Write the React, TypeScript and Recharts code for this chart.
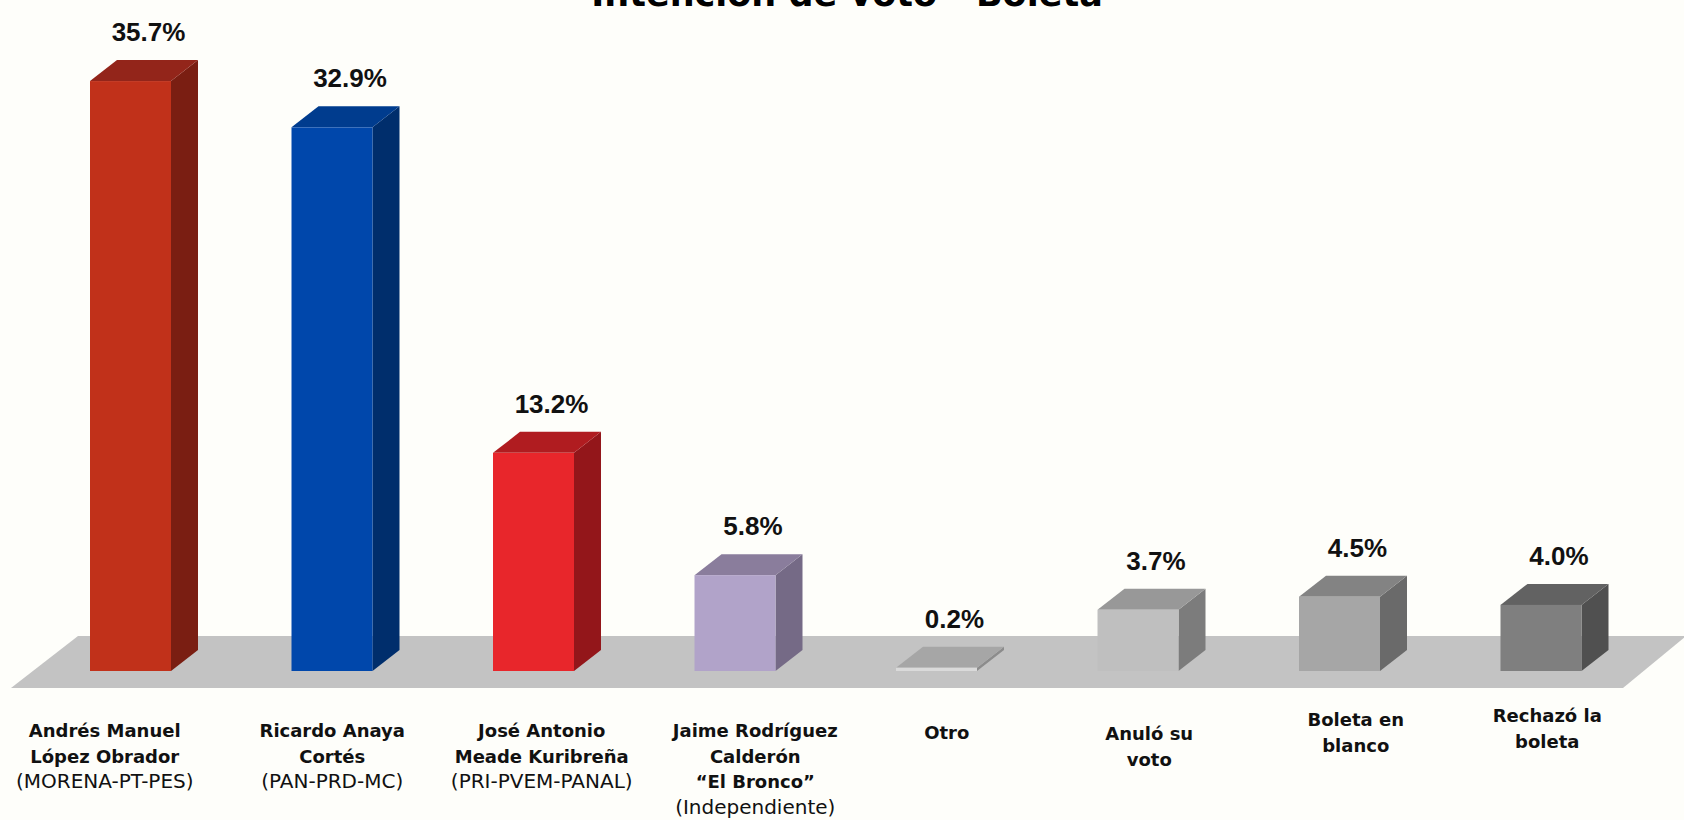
import React from 'react';
import { BarChart, Bar, XAxis, YAxis, LabelList, ReferenceArea } from 'recharts';

// ---- data ----
const CATEGORIES = ['AMLO', 'Anaya', 'Meade', 'Bronco', 'Otro', 'Anulo', 'Blanco', 'Rechazo'];
const VALUES = [35.7, 32.9, 13.2, 5.8, 0.2, 3.7, 4.5, 4.0];
const NAME_LINES = [
  ['Andrés Manuel', 'López Obrador'],
  ['Ricardo Anaya', 'Cortés'],
  ['José Antonio', 'Meade Kuribreña'],
  ['Jaime Rodríguez', 'Calderón', '“El Bronco”'],
  ['Otro'],
  ['Anuló su', 'voto'],
  ['Boleta en', 'blanco'],
  ['Rechazó la', 'boleta'],
];
const PARTY_LINES = ['(MORENA-PT-PES)', '(PAN-PRD-MC)', '(PRI-PVEM-PANAL)', '(Independiente)', '', '', '', ''];
const TITLE = 'Intención de voto - Boleta';

// ---- styles ----
const FRONT = ['#C1311A', '#0047AB', '#E8262B', '#B1A3C9', '#DADADA', '#BFBFBF', '#A6A6A6', '#7F7F7F'];
const TOP = ['#93251A', '#003C8E', '#B01C20', '#8A7D9C', '#A6A6A6', '#989898', '#838383', '#626262'];
const SIDE = ['#7A1E12', '#002E6C', '#93161A', '#756A86', '#8C8C8C', '#7C7C7C', '#6A6A6A', '#505050'];
const LABEL_DX = [-26, 0, 8, 20, 10, 11, 16, 6];
const LABEL_DY = [0, 0, 0, 0, 2, 3, -11, -15];
const DEPTH_X = 27;
const DEPTH_Y = 21;
const BG = '#FEFEFA';
const FLOOR = '#C3C3C3';

const data = CATEGORIES.map((c, i) => ({ cat: c, value: VALUES[i] }));

const Box3D = (props: any) => {
  const { x, y, width, height, index } = props;
  const dx = DEPTH_X;
  const dy = DEPTH_Y;
  const top = `${x},${y} ${x + dx},${y - dy} ${x + width + dx},${y - dy} ${x + width},${y}`;
  const side = `${x + width},${y} ${x + width + dx},${y - dy} ${x + width + dx},${y + height - dy} ${x + width},${y + height}`;
  return (
    <g>
      <polygon points={side} fill={SIDE[index]} />
      <polygon points={top} fill={TOP[index]} />
      <rect x={x} y={y} width={width} height={Math.max(height, 1)} fill={FRONT[index]} />
    </g>
  );
};

const Floor = (props: any) => {
  const { x, y, width, height } = props;
  const x0 = x;
  const x1 = x + width;
  const base = y + height;
  const pts = `${x0 - 19},${base + 17} ${x0 + 48},${base - 35} ${x1 + 44},${base - 35} ${x1 - 19},${base + 17}`;
  return <polygon points={pts} fill={FLOOR} />;
};

const ValueLabel = (props: any) => {
  const { x, y, width, value } = props;
  return (
    <text
      x={x + width / 2 + 18}
      y={y - 40}
      textAnchor="middle"
      fontFamily="Liberation Sans, Arial, sans-serif"
      fontWeight="bold"
      fontSize={26}
      fill="#111"
    >
      {`${Number(value).toFixed(1)}%`}
    </text>
  );
};

const CategoryTick = (props: any) => {
  const { x, y, index } = props;
  const names = NAME_LINES[index] || [];
  const party = PARTY_LINES[index];
  const cx = x + LABEL_DX[index];
  const baseY = y + 66 + LABEL_DY[index];
  const lineH = 25.5;
  return (
    <text x={cx} y={baseY} textAnchor="middle" fontFamily="DejaVu Sans, sans-serif" fontSize={18} fill="#111">
      {names.map((l, i) => (
        <tspan key={i} x={cx} y={baseY + i * lineH} fontWeight="bold">
          {l}
        </tspan>
      ))}
      {party ? (
        <tspan x={cx} y={baseY + names.length * lineH} fontWeight="normal" fontSize={20}>
          {party}
        </tspan>
      ) : null}
    </text>
  );
};

export default function App() {
  return (
    <div style={{ position: 'absolute', left: 0, top: 0, width: 1684, height: 820, background: BG, overflow: 'hidden' }}>
      <BarChart width={1684} height={820} data={data} margin={{ top: 10, right: 42, bottom: 0, left: 30 }}>
        <YAxis hide width={0} domain={[0, 40]} type="number" />
        <XAxis
          dataKey="cat"
          axisLine={false}
          tickLine={false}
          tickSize={0}
          tickMargin={0}
          height={149}
          interval={0}
          tick={<CategoryTick />}
        />
        <ReferenceArea
          x1={CATEGORIES[0]}
          x2={CATEGORIES[CATEGORIES.length - 1]}
          y1={0}
          y2={1}
          ifOverflow="visible"
          shape={<Floor />}
        />
        <Bar dataKey="value" barSize={81} isAnimationActive={false} shape={<Box3D />}>
          <LabelList dataKey="value" content={<ValueLabel />} />
        </Bar>
      </BarChart>
      <svg width={1684} height={820} style={{ position: 'absolute', left: 0, top: 0, pointerEvents: 'none' }}>
        <text x={847} y={6} textAnchor="middle" fontFamily="DejaVu Sans, sans-serif" fontWeight="bold" fontSize={35} fill="#000">
          {TITLE}
        </text>
      </svg>
    </div>
  );
}
